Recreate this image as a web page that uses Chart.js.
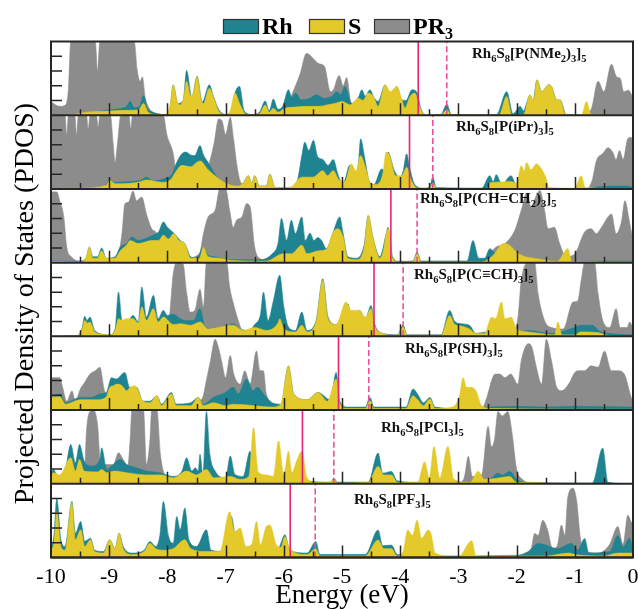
<!DOCTYPE html>
<html><head><meta charset="utf-8">
<script src="https://cdn.jsdelivr.net/npm/chart.js@4/dist/chart.umd.min.js"></script>
<style>html,body{margin:0;padding:0;background:#fff}canvas{display:block}</style>
</head><body>
<canvas id="c" width="638" height="609"></canvas>
<script>
// ---------------- DATA (energy in eV, PDOS in arbitrary units, panel scale 0..5) ----------------
const energyTicks = [-10,-9,-8,-7,-6,-5,-4,-3,-2,-1,0];
const seriesNames = ['Rh','S','PR_3'];
const panelLabels = ['Rh_6S_8[P(NMe_2)_3]_5','Rh_6S_8[P(iPr)_3]_5','Rh_6S_8[P(CH=CH_2)_3]_5','Rh_6S_8[P(C≡CH)_3]_5','Rh_6S_8[P(SH)_3]_5','Rh_6S_8[PCl_3]_5','Rh_6S_8[PF_3]_5'];
const homoLevels = [-3.69,-3.84,-4.16,-4.45,-5.06,-5.68,-5.89];
const lumoLevels = [-3.20,-3.44,-3.71,-3.95,-4.54,-5.14,-5.46];

// Panel 1: Rh6S8[P(NMe2)3]5
const rh1 = [[-10,0],[-9.6,0.02],[-9.5,0.07],[-9.2,0.25],[-9.0,0.36],[-8.8,0.45],[-8.7,0.6],[-8.64,0.93],[-8.57,0.5],[-8.48,0.6],[-8.41,1.33],[-8.35,0.5],[-8.25,0.2],[-8.1,0.05],[-8.0,0.05],[-7.95,0.6],[-7.9,2.06],[-7.82,0.8],[-7.73,1.0],[-7.67,3.03],[-7.58,1.2],[-7.49,2.65],[-7.4,0.9],[-7.28,2.06],[-7.21,1.3],[-7.12,0.4],[-7.0,0.05],[-6.9,0.3],[-6.84,1.5],[-6.76,1.95],[-6.68,0.3],[-6.55,0.05],[-6.42,0.2],[-6.32,0.97],[-6.25,0.3],[-6.18,1.1],[-6.1,0.4],[-6.02,0.6],[-5.92,1.72],[-5.86,1.2],[-5.8,1.5],[-5.7,1.04],[-5.55,1.15],[-5.44,1.38],[-5.32,1.15],[-5.18,1.27],[-5.09,1.6],[-5.02,1.4],[-4.95,1.95],[-4.83,0.8],[-4.72,1.2],[-4.66,1.72],[-4.6,1.3],[-4.52,1.72],[-4.45,1.2],[-4.38,0.93],[-4.26,2.06],[-4.2,1.6],[-4.12,1.4],[-4.06,1.95],[-3.97,1.04],[-3.9,1.0],[-3.8,1.72],[-3.72,1.6],[-3.64,0.4],[-3.55,0.02],[-3.3,0.05],[-3.2,0.75],[-3.12,0.05],[-2.35,0.02],[-2.17,1.6],[-2.06,0.1],[-1.94,0.6],[-1.88,0.3],[-1.83,0.8],[-1.77,1.38],[-1.72,0.9],[-1.65,2.4],[-1.57,1.6],[-1.45,2.06],[-1.4,1.95],[-1.31,1.04],[-1.25,1.04],[-1.15,0.05],[-0.9,0],[0,0]];
const s1 = [[-10,0],[-9.6,0.05],[-9.4,0.2],[-9.0,0.28],[-8.7,0.33],[-8.5,0.36],[-8.41,0.8],[-8.33,0.2],[-8.2,0.05],[-8.02,0.05],[-7.95,0.8],[-7.9,2.06],[-7.83,0.9],[-7.78,0.7],[-7.72,1.2],[-7.67,2.3],[-7.6,1.3],[-7.55,1.6],[-7.49,2.62],[-7.42,1.0],[-7.38,0.8],[-7.28,1.83],[-7.21,1.27],[-7.12,0.3],[-7.0,0.05],[-6.92,0.3],[-6.84,1.5],[-6.75,0.7],[-6.64,0.05],[-6.42,0.1],[-6.32,0.7],[-6.25,0.2],[-6.18,0.47],[-6.1,0.2],[-5.98,0.47],[-5.8,0.55],[-5.61,0.6],[-5.4,0.6],[-5.26,0.7],[-5.12,0.8],[-5.0,0.93],[-4.86,0.7],[-4.72,1.15],[-4.64,1.0],[-4.55,1.5],[-4.46,1.27],[-4.38,0.6],[-4.26,2.06],[-4.17,1.6],[-4.06,1.95],[-3.97,1.04],[-3.92,0.5],[-3.83,1.27],[-3.75,1.5],[-3.66,0.5],[-3.57,0.02],[-3.3,0.02],[-3.2,0.36],[-3.12,0.02],[-2.3,0.02],[-2.17,1.27],[-2.08,0.02],[-1.88,0.05],[-1.77,1.38],[-1.71,1.0],[-1.65,2.4],[-1.57,1.6],[-1.45,2.06],[-1.4,1.95],[-1.31,1.04],[-1.25,1.04],[-1.17,0.1],[-1.0,0.02],[-0.88,0.05],[-0.8,0.93],[-0.72,0.05],[0,0]];
const pr1 = [[-10,0.9],[-9.85,0.6],[-9.75,0.7],[-9.7,1.8],[-9.66,5],[-9.24,5],[-9.2,3.0],[-9.16,5],[-8.57,5],[-8.52,3.1],[-8.47,2.3],[-8.43,2.6],[-8.38,1.2],[-8.3,0.4],[-8.15,0.1],[-7.95,0],[-6.1,0],[-5.95,0.6],[-5.82,1.8],[-5.72,2.8],[-5.61,4.2],[-5.5,3.87],[-5.4,3.5],[-5.3,3.3],[-5.2,1.6],[-5.15,1.7],[-5.05,2.7],[-4.98,2.0],[-4.92,2.55],[-4.85,0.9],[-4.7,0.3],[-4.5,0],[-0.9,0],[-0.72,0.4],[-0.6,2.3],[-0.5,1.6],[-0.37,3.46],[-0.28,2.6],[-0.22,2.5],[-0.16,1.6],[-0.08,1.7],[0,1.2]];

// Panel 2: Rh6S8[P(iPr)3]5
const rh2 = [[-10,0],[-9.3,0.05],[-9.05,0.3],[-8.99,0.68],[-8.93,0.45],[-8.6,0.5],[-8.45,0.6],[-8.36,0.8],[-8.25,0.55],[-8.05,0.7],[-7.92,1.0],[-7.84,1.8],[-7.75,2.38],[-7.68,2.5],[-7.6,2.3],[-7.53,2.26],[-7.44,2.94],[-7.38,2.3],[-7.3,1.8],[-7.2,1.13],[-7.1,0.6],[-6.95,0.3],[-6.8,0.2],[-6.7,0.4],[-6.61,0.9],[-6.55,0.4],[-6.5,0.9],[-6.42,0.2],[-6.3,0.2],[-6.24,1.0],[-6.15,0.1],[-5.9,0.1],[-5.78,0.4],[-5.69,2.26],[-5.64,3.17],[-5.57,2.6],[-5.49,3.3],[-5.42,2.2],[-5.33,2.0],[-5.24,1.6],[-5.15,2.0],[-5.07,1.0],[-5.0,0.4],[-4.95,0.6],[-4.87,1.6],[-4.8,1.0],[-4.72,1.6],[-4.68,3.4],[-4.61,2.1],[-4.53,0.5],[-4.45,0.3],[-4.32,1.36],[-4.26,1.2],[-4.21,2.5],[-4.1,1.24],[-4.0,0.8],[-3.95,1.2],[-3.89,2.38],[-3.84,1.5],[-3.75,0.3],[-3.6,0.05],[-3.5,0.1],[-3.44,0.8],[-3.38,0.1],[-2.6,0.05],[-2.46,0.9],[-2.4,0.5],[-2.35,0.97],[-2.25,0.3],[-2.1,0.9],[-2.0,0.2],[-1.9,0.05],[-0.8,0.02],[-0.6,0.15],[-0.1,0.2],[0,0.1]];
const s2 = [[-10,0],[-9.5,0.05],[-9.05,0.25],[-8.99,0.6],[-8.9,0.35],[-8.5,0.45],[-8.36,0.6],[-8.1,0.45],[-7.95,0.6],[-7.85,1.2],[-7.75,1.6],[-7.6,1.5],[-7.5,1.8],[-7.44,1.9],[-7.3,1.3],[-7.15,0.8],[-7.0,0.4],[-6.8,0.2],[-6.7,0.4],[-6.61,0.9],[-6.55,0.4],[-6.5,0.9],[-6.42,0.2],[-6.3,0.2],[-6.24,1.0],[-6.15,0.1],[-5.9,0.1],[-5.69,0.8],[-5.5,0.8],[-5.33,1.24],[-5.25,0.9],[-5.15,1.24],[-5.05,0.6],[-4.95,0.5],[-4.84,1.7],[-4.76,1.2],[-4.68,2.26],[-4.6,1.5],[-4.5,0.3],[-4.42,0.3],[-4.3,1.0],[-4.24,2.5],[-4.18,2.26],[-4.08,0.9],[-3.97,0.9],[-3.89,1.47],[-3.8,0.5],[-3.7,0.05],[-3.5,0.05],[-3.44,0.4],[-3.38,0.05],[-2.5,0],[-2.46,0.4],[-2.35,0.45],[-2.1,0.5],[-2.0,0.4],[-1.92,1.58],[-1.87,1.2],[-1.83,1.8],[-1.75,1.3],[-1.66,1.7],[-1.58,1.4],[-1.5,0.8],[-1.44,0.1],[-1.0,0.05],[-0.89,0.9],[-0.82,0.1],[0,0]];
const pr2 = [[-10,5],[-9.76,5],[-9.73,3.7],[-9.7,5],[-9.59,5],[-9.56,3.7],[-9.53,5],[-9.39,5],[-9.36,4.07],[-9.33,5],[-9.22,5],[-9.19,4.2],[-9.16,5],[-8.98,5],[-8.93,3.0],[-8.9,1.8],[-8.86,3.0],[-8.8,5],[-8.66,5],[-8.63,4.07],[-8.6,5],[-8.07,5],[-8.01,3.7],[-7.9,2.4],[-7.84,0.9],[-7.7,0.6],[-7.5,0.6],[-7.38,0.8],[-7.3,1.5],[-7.2,3.05],[-7.12,4.75],[-7.06,4.6],[-7.0,3.7],[-6.92,4.86],[-6.86,3.3],[-6.8,1.47],[-6.74,0.45],[-6.6,0.1],[-6.4,0],[-0.8,0],[-0.7,0.6],[-0.63,1.9],[-0.52,2.4],[-0.43,2.8],[-0.35,2.5],[-0.29,2.0],[-0.23,2.6],[-0.17,2.0],[-0.09,3.4],[-0.03,3.5],[0,3.0]];

// Panel 3: Rh6S8[P(CH=CH2)3]5
const rh3 = [[-10,0.15],[-9.8,0.1],[-9.5,0.1],[-9.4,0.3],[-9.34,1.06],[-9.28,0.4],[-9.2,0.4],[-9.13,1.0],[-9.05,0.3],[-8.9,0.4],[-8.81,1.06],[-8.7,1.3],[-8.61,1.74],[-8.5,1.5],[-8.4,1.6],[-8.25,1.86],[-8.15,2.1],[-8.07,2.76],[-8.0,2.4],[-7.88,1.97],[-7.78,1.5],[-7.7,1.29],[-7.6,0.4],[-7.5,0.3],[-7.38,1.06],[-7.3,0.5],[-7.2,0.4],[-6.9,0.2],[-6.4,0.2],[-6.2,0.6],[-6.1,1.3],[-6.04,3.0],[-5.95,1.52],[-5.87,2.87],[-5.8,1.97],[-5.69,3.1],[-5.63,1.5],[-5.55,2.0],[-5.48,1.5],[-5.42,1.7],[-5.35,1.5],[-5.27,0.95],[-5.15,2.08],[-5.04,3.1],[-4.98,1.97],[-4.9,0.4],[-4.75,0.3],[-4.62,1.2],[-4.55,3.2],[-4.47,1.74],[-4.35,0.4],[-4.24,1.97],[-4.21,2.4],[-4.13,0.4],[-4.0,0.05],[-3.78,0.1],[-3.71,0.72],[-3.64,0.1],[-2.85,0.1],[-2.75,1.5],[-2.65,0.3],[-2.55,0.3],[-2.46,0.95],[-2.35,0.6],[-2.29,1.06],[-2.2,0.6],[-2.0,0.4],[-1.8,0.3],[-1.2,0.1],[0,0.1]];
const s3 = [[-10,0.1],[-9.5,0.05],[-9.4,0.3],[-9.34,1.06],[-9.28,0.3],[-9.2,0.3],[-9.13,0.8],[-9.05,0.3],[-8.9,0.3],[-8.81,0.8],[-8.7,1.2],[-8.64,1.5],[-8.5,1.29],[-8.27,1.5],[-8.15,1.5],[-8.07,1.86],[-7.98,1.6],[-7.89,1.97],[-7.8,1.5],[-7.7,1.29],[-7.6,0.3],[-7.45,0.3],[-7.38,1.06],[-7.3,0.4],[-7.1,0.3],[-6.9,0.15],[-6.3,0.1],[-6.01,0.6],[-5.87,0.6],[-5.69,1.18],[-5.6,0.6],[-5.4,0.8],[-5.27,0.9],[-5.15,2.08],[-5.07,2.3],[-4.98,1.74],[-4.9,0.3],[-4.75,0.2],[-4.62,1.0],[-4.55,3.2],[-4.47,1.74],[-4.35,0.3],[-4.29,0.8],[-4.24,1.97],[-4.2,2.3],[-4.13,0.3],[-4.0,0.05],[-3.78,0.05],[-3.71,0.6],[-3.64,0.05],[-2.6,0.05],[-2.4,0.5],[-2.23,1.29],[-2.12,1.18],[-2.0,0.7],[-1.85,0.4],[-1.7,0.3],[-1.3,0.1],[-1.12,0.95],[-1.05,0.1],[0,0.05]];
const pr3 = [[-10,4.8],[-9.9,4.8],[-9.85,4.2],[-9.78,3.1],[-9.73,1.06],[-9.65,0.4],[-9.5,0.1],[-9.0,0.1],[-8.85,0.5],[-8.78,2.0],[-8.73,4.0],[-8.67,4.1],[-8.59,4.86],[-8.53,4.2],[-8.44,4.45],[-8.36,3.3],[-8.27,2.3],[-8.18,1.97],[-8.12,1.06],[-8.0,0.6],[-7.7,0.3],[-7.45,0.6],[-7.38,1.97],[-7.3,3.1],[-7.18,3.55],[-7.1,5],[-7.0,5],[-6.93,3.55],[-6.87,2.4],[-6.81,2.9],[-6.72,3.1],[-6.64,4.0],[-6.58,3.8],[-6.5,1.06],[-6.42,0.3],[-6.2,0.1],[-2.6,0.1],[-2.35,1.06],[-2.2,1.3],[-2.03,2.2],[-1.92,3.55],[-1.83,4.68],[-1.75,3.78],[-1.66,4.57],[-1.6,4.9],[-1.52,3.55],[-1.46,2.3],[-1.35,2.4],[-1.26,1.29],[-1.15,0.4],[-1.0,0.6],[-0.83,2.08],[-0.72,2.3],[-0.63,1.97],[-0.54,2.4],[-0.43,3.1],[-0.37,3.3],[-0.29,1.97],[-0.2,2.76],[-0.14,4.2],[-0.06,2.76],[0,1.5]];

// Panel 4: Rh6S8[P(C≡CH)3]5
const rh4 = [[-10,0],[-9.55,0.05],[-9.47,0.5],[-9.42,1.36],[-9.38,1.08],[-9.33,1.31],[-9.25,0.4],[-9.0,0.1],[-8.9,0.5],[-8.84,3.0],[-8.78,1.08],[-8.7,0.9],[-8.59,1.42],[-8.5,1.0],[-8.44,3.35],[-8.36,1.31],[-8.24,2.78],[-8.16,1.2],[-8.07,1.76],[-8.0,1.42],[-7.9,1.5],[-7.78,1.2],[-7.7,1.08],[-7.55,1.08],[-7.44,1.88],[-7.35,0.63],[-7.2,0.5],[-7.0,0.6],[-6.87,0.86],[-6.75,0.5],[-6.6,0.4],[-6.5,0.8],[-6.4,1.5],[-6.35,3.0],[-6.27,1.08],[-6.18,2.4],[-6.07,4.14],[-6.0,2.0],[-5.92,0.63],[-5.8,0.4],[-5.69,1.65],[-5.6,0.4],[-5.45,1.0],[-5.33,3.9],[-5.24,1.31],[-5.1,0.8],[-4.9,2.2],[-4.84,1.31],[-4.7,1.76],[-4.6,1.2],[-4.5,2.1],[-4.44,0.86],[-4.3,0.2],[-4.05,0.1],[-3.95,0.75],[-3.88,0.1],[-3.3,0.1],[-3.15,1.76],[-3.06,1.0],[-2.95,0.86],[-2.81,0.75],[-2.7,0.2],[-2.5,0.3],[-2.0,0.3],[-1.8,0.4],[-1.4,0.2],[-1.0,0.6],[-0.9,0.75],[-0.7,0.75],[-0.55,0.3],[0,0.1]];
const s4 = [[-10,0],[-9.55,0.05],[-9.47,0.4],[-9.42,1.08],[-9.37,0.9],[-9.33,0.97],[-9.25,0.3],[-9.0,0.1],[-8.9,0.4],[-8.84,1.2],[-8.78,1.08],[-8.7,1.2],[-8.59,1.2],[-8.5,0.9],[-8.44,2.0],[-8.36,1.08],[-8.24,1.88],[-8.16,0.97],[-8.07,1.31],[-7.9,0.8],[-7.78,0.86],[-7.6,0.75],[-7.44,0.97],[-7.3,0.5],[-6.87,0.75],[-6.7,0.4],[-6.5,0.6],[-6.3,0.4],[-6.1,0.9],[-6.07,1.2],[-6.0,0.5],[-5.8,0.3],[-5.69,0.75],[-5.6,0.3],[-5.45,0.9],[-5.33,3.8],[-5.24,1.2],[-5.1,0.8],[-4.93,2.33],[-4.84,1.76],[-4.7,1.76],[-4.6,1.3],[-4.5,1.88],[-4.44,0.7],[-4.3,0.2],[-4.05,0.05],[-3.95,0.63],[-3.88,0.05],[-3.3,0.05],[-3.15,1.42],[-3.06,0.8],[-2.95,0.7],[-2.81,0.5],[-2.7,0.2],[-2.55,0.2],[-2.43,1.3],[-2.36,1.2],[-2.26,2.33],[-2.2,1.2],[-2.09,1.3],[-2.0,0.5],[-1.8,0.3],[-1.6,0.2],[-1.35,0.1],[-1.29,0.97],[-1.22,0.1],[-1.0,0.1],[-0.9,0.3],[-0.6,0.25],[-0.4,0.05],[0,0]];
const pr4 = [[-10,0],[-8.1,0],[-8.0,0.6],[-7.96,1.54],[-7.9,4.25],[-7.84,5],[-7.73,4.9],[-7.67,3.0],[-7.61,1.65],[-7.53,1.76],[-7.44,3.2],[-7.38,2.0],[-7.33,5],[-6.98,5],[-6.93,3.35],[-6.87,2.3],[-6.8,1.3],[-6.7,0.3],[-6.5,0.1],[-2.3,0.1],[-2.1,0.2],[-1.98,1.2],[-1.92,3.8],[-1.8,5],[-1.69,5],[-1.63,2.9],[-1.52,1.08],[-1.4,0.6],[-1.2,0.5],[-1.03,2.33],[-0.95,2.4],[-0.89,3.8],[-0.83,5],[-0.66,5],[-0.6,2.9],[-0.52,1.08],[-0.4,0.6],[-0.29,1.88],[-0.22,0.6],[-0.1,0.6],[-0.06,0.97],[0,0.6]];

// Panel 5: Rh6S8[P(SH)3]5
const rh5 = [[-10,0.75],[-9.85,1.1],[-9.75,0.5],[-9.5,0.86],[-9.3,0.86],[-9.15,1.1],[-9.05,1.2],[-8.96,2.2],[-8.88,2.1],[-8.73,2.55],[-8.65,1.54],[-8.53,1.54],[-8.42,0.6],[-8.3,0.6],[-8.18,0.97],[-8.1,0.4],[-7.93,1.2],[-7.85,0.4],[-7.6,0.5],[-7.47,0.86],[-7.38,0.4],[-7.21,0.86],[-7.0,1.2],[-6.87,1.54],[-6.78,1.1],[-6.64,2.1],[-6.53,1.31],[-6.45,1.54],[-6.35,1.1],[-6.2,0.5],[-6.05,0.4],[-5.92,3.0],[-5.83,1.1],[-5.6,0.7],[-5.41,1.2],[-5.2,0.7],[-5.1,2.55],[-5.04,0.63],[-4.9,0.2],[-4.6,0.2],[-4.52,0.86],[-4.45,0.2],[-3.9,0.2],[-3.78,1.43],[-3.7,1.08],[-3.6,0.5],[-3.49,0.86],[-3.4,0.2],[-3.0,0.1],[-2.5,0.2],[-2.0,0.25],[-1.5,0.2],[-1.0,0.25],[0,0.2]];
const s5 = [[-10,0.86],[-9.85,0.9],[-9.75,0.4],[-9.5,0.7],[-9.2,0.7],[-9.05,0.9],[-8.99,1.54],[-8.93,1.65],[-8.87,1.76],[-8.78,1.65],[-8.7,1.31],[-8.64,1.54],[-8.56,1.65],[-8.53,1.54],[-8.42,0.6],[-8.3,0.5],[-8.18,0.97],[-8.1,0.3],[-7.93,1.1],[-7.85,0.3],[-7.6,0.3],[-7.47,0.86],[-7.38,0.3],[-7.21,0.5],[-7.0,0.3],[-6.87,0.4],[-6.5,0.3],[-6.2,0.2],[-6.05,0.4],[-5.92,3.0],[-5.83,1.1],[-5.6,0.7],[-5.41,1.2],[-5.25,0.6],[-5.1,2.1],[-5.04,0.5],[-4.9,0.1],[-4.6,0.1],[-4.52,0.63],[-4.45,0.1],[-3.9,0.1],[-3.78,0.97],[-3.7,0.7],[-3.6,0.3],[-3.49,0.75],[-3.4,0.1],[-3.1,0.2],[-2.98,1.0],[-2.92,2.2],[-2.86,1.54],[-2.78,1.54],[-2.7,1.31],[-2.6,0.3],[-2.4,0.1],[0,0.05]];
const pr5 = [[-10,2.2],[-9.85,2.2],[-9.8,1.54],[-9.73,0.6],[-9.64,1.3],[-9.58,0.6],[-9.5,1.4],[-9.42,1.88],[-9.33,2.44],[-9.24,2.67],[-9.16,2.9],[-9.08,1.3],[-9.0,1.0],[-8.9,1.5],[-8.7,1.5],[-8.5,0.8],[-8.2,0.3],[-7.9,0.4],[-7.6,0.4],[-7.4,0.8],[-7.33,2.0],[-7.26,3.35],[-7.18,4.8],[-7.12,4.2],[-7.07,3.35],[-7.0,2.2],[-6.92,3.7],[-6.86,2.44],[-6.75,1.76],[-6.67,2.67],[-6.58,1.76],[-6.47,4.0],[-6.41,2.67],[-6.35,2.67],[-6.3,1.1],[-6.1,0.1],[-2.6,0.1],[-2.5,1.0],[-2.43,2.0],[-2.37,2.44],[-2.29,2.44],[-2.2,2.2],[-2.1,2.44],[-1.98,1.76],[-1.92,3.35],[-1.8,4.5],[-1.74,4.3],[-1.66,2.9],[-1.57,1.76],[-1.49,4.8],[-1.4,3.35],[-1.31,1.54],[-1.23,1.31],[-1.1,1.8],[-1.0,2.55],[-0.94,2.67],[-0.83,2.67],[-0.72,3.0],[-0.6,2.9],[-0.49,4.0],[-0.37,2.67],[-0.26,2.67],[-0.15,2.44],[-0.03,0.86],[0,0.6]];

// Panel 6: Rh6S8[PCl3]5
const rh6 = [[-10,0.5],[-9.96,0.97],[-9.88,0.5],[-9.76,0.86],[-9.66,2.67],[-9.58,1.42],[-9.51,2.67],[-9.43,1.54],[-9.3,1.2],[-9.16,1.65],[-9.13,2.44],[-9.04,0.97],[-8.96,1.2],[-8.81,1.65],[-8.7,1.31],[-8.53,1.08],[-8.36,0.86],[-8.13,0.75],[-7.9,0.5],[-7.75,0.86],[-7.67,1.76],[-7.58,0.86],[-7.52,1.08],[-7.47,0.86],[-7.44,2.0],[-7.39,0.63],[-7.33,4.9],[-7.27,2.0],[-7.18,0.86],[-7.0,0.4],[-6.92,1.88],[-6.84,0.63],[-6.7,0.5],[-6.58,2.2],[-6.5,0.86],[-6.3,0.2],[-5.9,0.1],[-5.8,0.4],[-5.72,0.9],[-5.6,0.2],[-5.2,0.1],[-5.14,0.38],[-5.08,0.1],[-4.55,0.1],[-4.38,2.08],[-4.3,0.72],[-4.15,0.84],[-4.05,0.2],[-3.5,0.05],[-2.5,0.2],[-2.32,0.72],[-2.24,0.6],[-2.12,0.84],[-2.0,0.3],[-1.8,0.05],[-0.7,0.05],[-0.52,2.42],[-0.43,0.1],[0,0]];
const s6 = [[-10,0.5],[-9.96,0.75],[-9.85,0.6],[-9.66,1.76],[-9.58,0.86],[-9.51,1.65],[-9.43,0.86],[-9.2,0.8],[-9.13,0.97],[-9.04,0.75],[-8.9,0.86],[-8.7,0.75],[-8.36,0.6],[-8.1,0.6],[-7.9,0.4],[-7.67,0.86],[-7.5,0.6],[-7.33,0.97],[-7.2,0.4],[-6.92,0.5],[-6.75,0.3],[-6.6,0.5],[-6.52,3.8],[-6.44,0.8],[-6.3,0.6],[-6.18,0.5],[-6.09,2.9],[-6.0,0.6],[-5.92,2.2],[-5.86,0.75],[-5.78,1.54],[-5.69,2.2],[-5.6,0.4],[-5.45,0.1],[-5.2,0.1],[-5.14,0.3],[-5.08,0.05],[-4.55,0.1],[-4.38,1.18],[-4.28,0.6],[-4.15,0.6],[-4.05,0.1],[-3.7,0.1],[-3.58,1.5],[-3.5,0.4],[-3.42,2.53],[-3.32,0.4],[-3.18,2.53],[-3.08,0.3],[-2.8,0.1],[-2.66,0.84],[-2.55,0.3],[-2.3,0.4],[-2.12,0.5],[-2.0,0.1],[0,0]];
const pr6 = [[-10,0],[-9.5,0.1],[-9.42,1.2],[-9.39,3.6],[-9.33,4.9],[-9.27,5],[-9.2,4.0],[-9.15,1.5],[-9.07,1.3],[-9.01,1.3],[-8.93,1.3],[-8.84,2.1],[-8.76,1.65],[-8.68,1.2],[-8.64,3.0],[-8.61,5],[-8.41,5],[-8.36,1.31],[-8.3,3.0],[-8.27,5],[-8.18,5],[-8.12,2.0],[-8.07,0.86],[-8.0,0.3],[-7.9,0.1],[-3.0,0.1],[-2.9,0.4],[-2.83,1.86],[-2.76,0.5],[-2.6,0.6],[-2.49,3.9],[-2.43,2.5],[-2.38,3.0],[-2.32,4.9],[-2.25,4.6],[-2.15,4.9],[-2.08,3.5],[-2.0,1.0],[-1.9,0.3],[-1.8,0.1],[0,0]];

// Panel 7: Rh6S8[PF3]5
const rh7 = [[-10,0.5],[-9.95,1.5],[-9.9,4.0],[-9.83,1.2],[-9.76,0.75],[-9.64,3.8],[-9.58,1.65],[-9.49,2.44],[-9.42,1.1],[-9.32,1.3],[-9.25,0.5],[-9.1,0.4],[-8.99,1.2],[-8.9,0.6],[-8.83,1.65],[-8.76,0.75],[-8.6,0.3],[-8.4,0.5],[-8.3,1.08],[-8.2,0.75],[-8.13,1.5],[-8.07,3.8],[-7.98,1.42],[-7.9,0.97],[-7.84,2.78],[-7.78,1.88],[-7.7,3.35],[-7.63,1.2],[-7.5,0.75],[-7.33,1.88],[-7.25,0.5],[-7.0,0.4],[-6.9,2.78],[-6.82,1.2],[-6.5,0.5],[-6.1,0.6],[-5.98,1.54],[-5.9,0.5],[-5.6,0.3],[-5.45,1.08],[-5.38,0.2],[-4.6,0.2],[-4.38,1.86],[-4.3,0.8],[-4.15,0.84],[-4.05,0.2],[-3.5,0.1],[-2.0,0.15],[-1.8,0.4],[-1.63,0.95],[-1.5,0.84],[-1.3,0.6],[-1.06,0.95],[-0.95,0.5],[-0.83,1.29],[-0.76,0.3],[-0.4,0.4],[-0.26,1.5],[-0.17,0.7],[-0.06,1.29],[0,0.6]];
const s7 = [[-10,0.5],[-9.95,1.0],[-9.9,3.1],[-9.83,0.75],[-9.76,0.5],[-9.64,3.7],[-9.58,1.2],[-9.49,1.88],[-9.42,0.75],[-9.32,1.2],[-9.25,0.4],[-9.1,0.3],[-8.99,1.2],[-8.9,0.6],[-8.83,1.65],[-8.76,0.6],[-8.6,0.2],[-8.4,0.4],[-8.3,0.97],[-8.2,0.6],[-8.07,0.5],[-7.9,0.6],[-7.7,1.2],[-7.6,0.6],[-7.33,0.4],[-7.1,0.4],[-6.93,3.1],[-6.84,1.76],[-6.75,2.0],[-6.65,0.75],[-6.55,0.9],[-6.47,2.44],[-6.4,0.86],[-6.3,2.1],[-6.24,2.2],[-6.12,0.8],[-6.05,0.7],[-5.98,1.42],[-5.9,0.6],[-5.6,0.2],[-5.45,0.6],[-5.38,0.1],[-4.6,0.1],[-4.38,1.18],[-4.28,0.6],[-4.15,0.6],[-4.05,0.1],[-3.95,0.4],[-3.87,1.86],[-3.79,1.5],[-3.71,2.53],[-3.63,1.3],[-3.52,1.86],[-3.47,1.6],[-3.4,0.3],[-3.0,0.05],[-2.77,1.13],[-2.7,0.1],[-1.8,0.1],[-1.5,0.1],[-1.1,0.3],[-1.0,0.2],[-0.5,0.1],[-0.26,0.3],[0,0.3]];
const pr7 = [[-10,0],[-2.0,0],[-1.85,0.3],[-1.75,0.6],[-1.69,1.63],[-1.63,1.5],[-1.55,2.53],[-1.47,1.9],[-1.38,0.6],[-1.3,0.8],[-1.23,2.2],[-1.17,1.5],[-1.12,4.1],[-1.03,4.7],[-0.97,3.9],[-0.9,1.2],[-0.8,0.4],[-0.6,0.3],[-0.4,0.9],[-0.26,2.1],[-0.17,0.9],[-0.09,2.87],[-0.03,2.4],[0,2.2]];

const rhSeries = [rh1,rh2,rh3,rh4,rh5,rh6,rh7];
const sSeries  = [s1,s2,s3,s4,s5,s6,s7];
const prSeries = [pr1,pr2,pr3,pr4,pr5,pr6,pr7];

// ---------------- STYLE / LAYOUT ----------------
const COL = {rh:'#1f8391', s:'#e3c92a', pr:'#8c8c8c', homo:'#e8227c', lumo:'#ee4f98', frame:'#262626'};
const SERIF = '"Liberation Serif","Times New Roman",serif';
const labelPos = [[472,16.5],[456,15.7],[420,14.2],[414,16.2],[405,16.7],[381,21.5],[354,20]];

const N = panelLabels.length;
// Chart.js stacks left axes bottom-up in definition order, so panel i (top = 0) uses axis p(N-1-i)
const panelIds = panelLabels.map((_, i) => 'p' + (N - 1 - i));
const datasets = [];
function area(data, yid, color, order, name){
  return {label:name, data, xAxisID:'x', yAxisID:yid, fill:'origin', backgroundColor:color, borderColor:color,
          borderWidth:0.6, pointRadius:0, cubicInterpolationMode:'monotone', order};
}
panelIds.forEach((id, i) => {
  datasets.push({label:'HOMO', data:[[homoLevels[i],0],[homoLevels[i],5]], xAxisID:'x', yAxisID:id, borderColor:COL.homo, borderWidth:1.6, pointRadius:0, fill:false, order:0});
  datasets.push({label:'LUMO', data:[[lumoLevels[i],0],[lumoLevels[i],5]], xAxisID:'x', yAxisID:id, borderColor:COL.lumo, borderWidth:1.6, borderDash:[6,3], pointRadius:0, fill:false, order:0});
  datasets.push(area(sSeries[i], id, COL.s, 1, 'S'));
  datasets.push(area(rhSeries[i], id, COL.rh, 2, 'Rh'));
  datasets.push(area(prSeries[i], id, COL.pr, 3, 'PR3'));
});

const scales = {
  x: {type:'linear', min:-10, max:0, position:'bottom', grid:{display:false, drawTicks:false}, border:{display:false}, ticks:{display:false}}
};
for (let k = 0; k < N; k++){
  scales['p' + k] = {type:'linear', position:'left', stack:'pdos', stackWeight:1, min:0, max:5,
    grid:{display:false, drawTicks:false}, border:{display:false}, ticks:{display:false}};
}

function drawChem(ctx, str, x, y, size, subSize, subDy){
  let i = 0, cx = x;
  while (i < str.length){
    if (str[i] === '_'){
      const ch = str[i+1];
      ctx.font = `bold ${subSize}px ${SERIF}`;
      ctx.fillText(ch, cx, y + subDy);
      cx += ctx.measureText(ch).width; i += 2;
    } else {
      let j = i; while (j < str.length && str[j] !== '_') j++;
      const t = str.slice(i, j);
      ctx.font = `bold ${size}px ${SERIF}`;
      ctx.fillText(t, cx, y);
      cx += ctx.measureText(t).width; i = j;
    }
  }
  return cx;
}

const decor = {
  id:'decor',
  afterDatasetsDraw(chart){
    const ctx = chart.ctx, xs = chart.scales.x;
    const L = xs.left, R = xs.right;
    ctx.save();
    ctx.strokeStyle = COL.frame; ctx.fillStyle = '#000';
    let top0 = Infinity, bot0 = -Infinity;
    panelIds.forEach((id, i) => {
      const ys = chart.scales[id];
      top0 = Math.min(top0, ys.top); bot0 = Math.max(bot0, ys.bottom);
      ctx.lineWidth = 1.5;
      ctx.beginPath();
      for (let k = 1; k < 20; k++){
        const v = -10 + k * 0.5;
        const px = Math.round(xs.getPixelForValue(v)) + 0.5;
        const len = (k % 2 === 0) ? 12 : 6;
        ctx.moveTo(px, ys.bottom); ctx.lineTo(px, ys.bottom - len);
      }
      for (let u = 1; u <= 4; u++){
        const py = ys.getPixelForValue(u);
        ctx.moveTo(L, py); ctx.lineTo(L + 11, py);
      }
      ctx.stroke();
      ctx.lineWidth = 2;
      ctx.beginPath(); ctx.moveTo(L, ys.bottom); ctx.lineTo(R, ys.bottom); ctx.stroke();
      ctx.fillStyle = '#111'; ctx.textAlign = 'left'; ctx.textBaseline = 'alphabetic';
      drawChem(ctx, panelLabels[i], labelPos[i][0], ys.top + labelPos[i][1], 15, 10.5, 4);
    });
    ctx.lineWidth = 2;
    ctx.strokeRect(L, top0, R - L, bot0 - top0);
    // x tick labels
    ctx.fillStyle = '#000'; ctx.textAlign = 'center'; ctx.textBaseline = 'alphabetic';
    ctx.font = `22px ${SERIF}`;
    energyTicks.forEach(v => ctx.fillText(String(v), xs.getPixelForValue(v), 583));
    // axis titles
    ctx.font = `27px ${SERIF}`;
    ctx.fillText('Energy (eV)', (L + R) / 2, 603);
    ctx.save();
    ctx.translate(33, (top0 + bot0) / 2 + 4);
    ctx.rotate(-Math.PI / 2);
    ctx.font = `28px ${SERIF}`;
    ctx.fillText('Projected Density of States (PDOS)', 0, 0);
    ctx.restore();
    // legend
    const items = [[COL.rh, 223], [COL.s, 309], [COL.pr, 374]];
    items.forEach(([c, x0], k) => {
      ctx.fillStyle = c; ctx.fillRect(x0, 19, 36, 15);
      ctx.lineWidth = 1.2; ctx.strokeStyle = '#333'; ctx.strokeRect(x0 + 0.5, 19.5, 35, 14);
      ctx.fillStyle = '#000'; ctx.textAlign = 'left';
      drawChem(ctx, seriesNames[k], x0 + 39, 34, 24, 16, 5);
    });
    ctx.restore();
  }
};

new Chart(document.getElementById('c'), {
  type:'line',
  data:{datasets},
  options:{
    responsive:false, animation:false, devicePixelRatio:1,
    layout:{padding:{left:51, right:5, top:41.5, bottom:51.5}},
    plugins:{legend:{display:false}, tooltip:{enabled:false}},
    scales
  },
  plugins:[decor]
});
</script>
</body></html>
